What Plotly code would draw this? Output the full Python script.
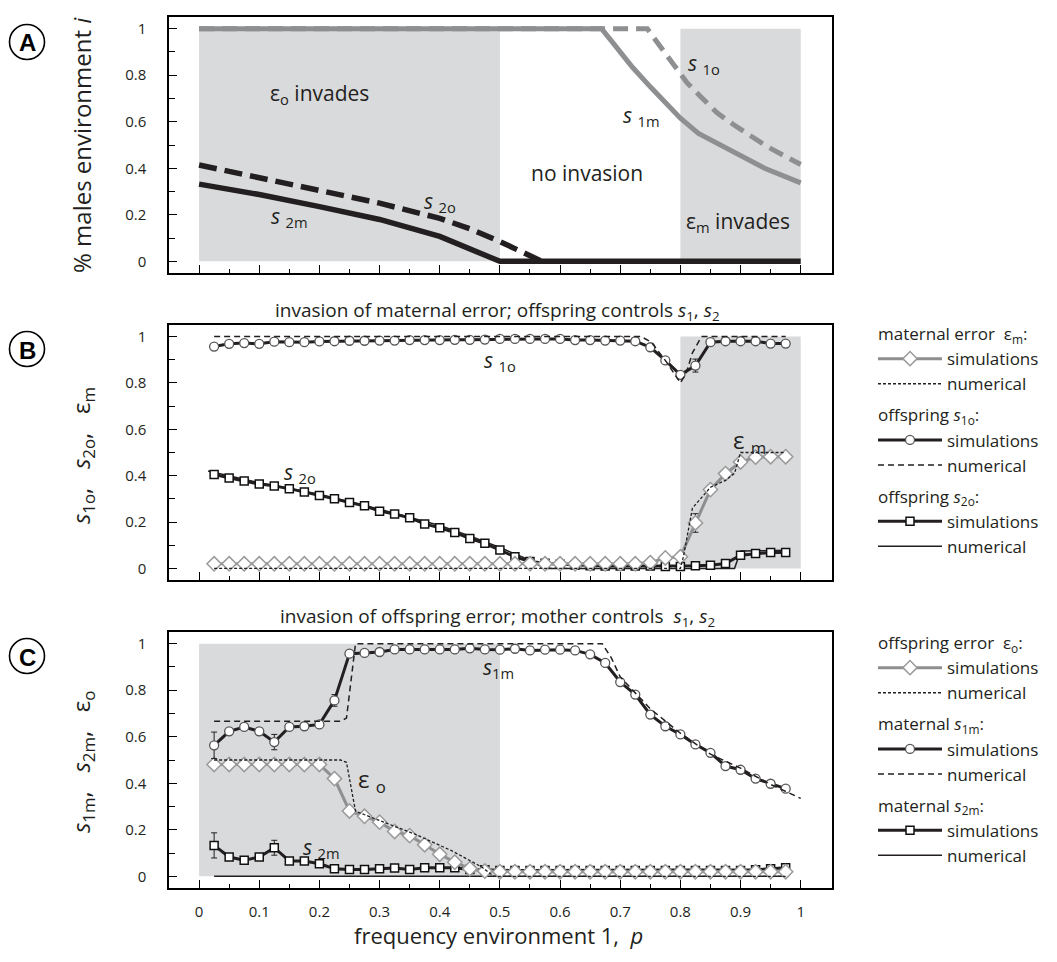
import plotly.graph_objects as go

# ---------------- data ----------------
# Panel A (analytical curves)
a_s1m_p = [0, 0.669, 0.683, 0.70, 0.72, 0.75, 0.78, 0.80, 0.83, 0.89, 0.94, 1.0]
a_s1m_y = [1, 1, 0.955, 0.90, 0.835, 0.75, 0.67, 0.615, 0.55, 0.465, 0.40, 0.337]
a_s1o_p = [0, 0.745, 0.766, 0.789, 0.811, 0.833, 0.861, 0.888, 0.916, 0.943, 1.0]
a_s1o_y = [1, 1, 0.925, 0.84, 0.768, 0.71, 0.638, 0.588, 0.538, 0.495, 0.416]
a_s2o_p = [0, 0.1, 0.2, 0.3, 0.4, 0.45, 0.5, 0.535, 0.57]
a_s2o_y = [0.414, 0.36, 0.305, 0.25, 0.185, 0.14, 0.085, 0.045, 0.0]
a_s2m_p = [0, 0.1, 0.2, 0.3, 0.4, 0.45, 0.5, 1.0]
a_s2m_y = [0.332, 0.287, 0.235, 0.18, 0.107, 0.055, 0.0, 0.0]

# simulation grid
p_sim = [0.025, 0.05, 0.075, 0.1, 0.125, 0.15, 0.175, 0.2, 0.225, 0.25,
         0.275, 0.3, 0.325, 0.35, 0.375, 0.4, 0.425, 0.45, 0.475, 0.5,
         0.525, 0.55, 0.575, 0.6, 0.625, 0.65, 0.675, 0.7, 0.725, 0.75,
         0.775, 0.8, 0.825, 0.85, 0.875, 0.9, 0.925, 0.95, 0.975]

# Panel B
b_s1o_sim = [0.957, 0.969, 0.972, 0.969, 0.978, 0.976, 0.976, 0.979, 0.98, 0.982,
             0.982, 0.983, 0.983, 0.985, 0.985, 0.985, 0.986, 0.986, 0.987, 0.99,
             0.99, 0.99, 0.99, 0.99, 0.985, 0.985, 0.983, 0.983, 0.98, 0.954,
             0.897, 0.835, 0.875, 0.976, 0.98, 0.98, 0.98, 0.97, 0.97]
b_s1o_err = [0] * 31 + [0.012, 0.028] + [0] * 6
b_em_sim = [0.02] * 28 + [0.02, 0.025, 0.045, 0.05, 0.196, 0.34, 0.409, 0.459, 0.48, 0.482, 0.482]
b_em_err = [0] * 32 + [0.04, 0.015] + [0] * 5
b_s2o_sim = [0.405, 0.39, 0.377, 0.364, 0.356, 0.344, 0.33, 0.315, 0.30, 0.284,
             0.27, 0.247, 0.235, 0.218, 0.192, 0.175, 0.155, 0.129, 0.108, 0.079,
             0.05, 0.03, 0.022, 0.018, 0.015, 0.012, 0.01, 0.01, 0.01, 0.01,
             0.008, 0.008, 0.011, 0.014, 0.021, 0.057, 0.064, 0.069, 0.069]

b_em_num_p = [0.025, 0.8, 0.805, 0.82, 0.85, 0.875, 0.89, 0.9, 0.975]
b_em_num_y = [0.0, 0.0, 0.05, 0.26, 0.35, 0.38, 0.41, 0.5, 0.5]
b_s1o_num_p = [0.025, 0.735, 0.752, 0.777, 0.80, 0.81, 0.82, 0.835, 0.975]
b_s1o_num_y = [1, 1, 0.975, 0.89, 0.80, 0.845, 0.93, 1, 1]
b_s2o_num_p = [0.015, 0.1, 0.2, 0.3, 0.4, 0.45, 0.5, 0.55, 0.575, 0.89, 0.9, 0.975]
b_s2o_num_y = [0.42, 0.37, 0.32, 0.255, 0.185, 0.14, 0.09, 0.035, 0.0, 0.0, 0.075, 0.078]

# Panel C
c_s1m_sim = [0.563, 0.623, 0.642, 0.623, 0.577, 0.642, 0.645, 0.653, 0.756, 0.957,
             0.96, 0.964, 0.975, 0.975, 0.975, 0.975, 0.975, 0.98, 0.975, 0.974,
             0.978, 0.971, 0.974, 0.974, 0.971, 0.954, 0.917, 0.835, 0.781, 0.695,
             0.645, 0.61, 0.567, 0.531, 0.474, 0.458, 0.42, 0.398, 0.377]
c_s1m_err = [0.057, 0, 0.01, 0.015, 0.033, 0, 0, 0, 0.025] + [0] * 30
c_eo_sim = [0.481] * 8 + [0.42, 0.281, 0.258, 0.233, 0.193, 0.175, 0.136, 0.095,
                          0.061, 0.033, 0.023, 0.02] + [0.02] * 19
c_s2m_sim = [0.133, 0.083, 0.069, 0.083, 0.123, 0.066, 0.066, 0.054, 0.033, 0.029,
             0.029, 0.033, 0.036, 0.029, 0.037, 0.037, 0.037, 0.03, 0.028, 0.025] \
            + [0.025] * 16 + [0.028, 0.033, 0.037]
c_s2m_err = [0.054, 0, 0, 0.015, 0.032] + [0] * 34

c_eo_num_p = [0.025, 0.235, 0.245, 0.26, 0.31, 0.36, 0.42, 0.47, 0.49, 0.975]
c_eo_num_y = [0.5, 0.5, 0.49, 0.28, 0.23, 0.18, 0.11, 0.04, 0.0, 0.0]
c_s1m_num_p = [0.025, 0.235, 0.245, 0.26, 0.67, 0.685, 0.7, 0.75, 0.8, 0.85, 0.9, 0.95, 1.0]
c_s1m_num_y = [0.667, 0.667, 0.68, 1, 1, 0.94, 0.857, 0.72, 0.615, 0.525, 0.465, 0.395, 0.335]
c_s2m_num_p = [0.025, 0.975]
c_s2m_num_y = [0.0, 0.0]

x_ticks = [0, 0.1, 0.2, 0.3, 0.4, 0.5, 0.6, 0.7, 0.8, 0.9, 1]
x_ticktext = ["0", "0.1", "0.2", "0.3", "0.4", "0.5", "0.6", "0.7", "0.8", "0.9", "1"]
x_minor = [0.05, 0.15, 0.25, 0.35, 0.45, 0.55, 0.65, 0.75, 0.85, 0.95]
y_ticks = [0, 0.2, 0.4, 0.6, 0.8, 1]
y_ticktext = ["0", "0.2", "0.4", "0.6", "0.8", "1"]
y_minor = [0.1, 0.3, 0.5, 0.7, 0.9]

# ---------------- styling ----------------
OFF = 8                       # default body margin of the html page
W, H = 1057 - 2 * OFF, 962 - 2 * OFF
FONT = "Open Sans"
TXT = "#231f20"
GRAY = "#8e8f91"
SHADE = "#d9dadc"
SP = "\u00a0"


def px(x):
    return (x - OFF) / W


def py(y):
    return 1 - (y - OFF) / H


XDOM = [px(169), px(832)]
YDOM = {1: [py(273), py(17)], 2: [py(580), py(325)], 3: [py(888), py(632)]}

fig = go.Figure()

# ---------------- panel A ----------------
fig.add_trace(go.Scatter(x=a_s1o_p, y=a_s1o_y, mode="lines", xaxis="x", yaxis="y",
                         line=dict(color=GRAY, width=5, dash="15px,8px"), showlegend=False))
fig.add_trace(go.Scatter(x=a_s1m_p, y=a_s1m_y, mode="lines", xaxis="x", yaxis="y",
                         line=dict(color=GRAY, width=5), showlegend=False))
fig.add_trace(go.Scatter(x=a_s2o_p, y=a_s2o_y, mode="lines", xaxis="x", yaxis="y",
                         line=dict(color=TXT, width=5.5, dash="18px,8px"), showlegend=False))
fig.add_trace(go.Scatter(x=a_s2m_p, y=a_s2m_y, mode="lines", xaxis="x", yaxis="y",
                         line=dict(color=TXT, width=5.5), showlegend=False))

# ---------------- panel B ----------------
circ = dict(symbol="circle", size=9, color="white", line=dict(color="#555555", width=1.3))
sq = dict(symbol="square", size=8, color="white", line=dict(color="#111111", width=1.5))
dia = dict(symbol="diamond", size=11, color="white", line=dict(color="#9a9a9a", width=1.5))


def err(arr):
    return dict(type="data", array=arr, visible=True, color=TXT, thickness=1, width=3)


T_EM = "maternal error" + SP + SP + "ε<sub>m</sub>:"
T_S1O = "offspring <i>s</i><sub>1o</sub>:"
T_S2O = "offspring <i>s</i><sub>2o</sub>:"
T_EO = "offspring error" + SP + SP + "ε<sub>o</sub>:"
T_S1M = "maternal <i>s</i><sub>1m</sub>:"
T_S2M = "maternal <i>s</i><sub>2m</sub>:"

fig.add_trace(go.Scatter(x=b_s2o_num_p, y=b_s2o_num_y, mode="lines", xaxis="x2", yaxis="y2",
                         line=dict(color=TXT, width=1.5), name="numerical",
                         legend="legend", legendgroup="s2o", legendrank=6,
                         legendgrouptitle=dict(text=T_S2O)))
fig.add_trace(go.Scatter(x=p_sim, y=b_s2o_sim, mode="lines+markers", xaxis="x2", yaxis="y2",
                         line=dict(color=TXT, width=3), marker=sq, name="simulations",
                         legend="legend", legendgroup="s2o", legendrank=5,
                         legendgrouptitle=dict(text=T_S2O)))
fig.add_trace(go.Scatter(x=p_sim, y=b_s1o_sim, mode="lines+markers", xaxis="x2", yaxis="y2",
                         line=dict(color=TXT, width=3), marker=circ, name="simulations",
                         error_y=err(b_s1o_err),
                         legend="legend", legendgroup="s1o", legendrank=3,
                         legendgrouptitle=dict(text=T_S1O)))
fig.add_trace(go.Scatter(x=b_s1o_num_p, y=b_s1o_num_y, mode="lines", xaxis="x2", yaxis="y2",
                         line=dict(color=TXT, width=1.5, dash="6px,4px"), name="numerical",
                         legend="legend", legendgroup="s1o", legendrank=4,
                         legendgrouptitle=dict(text=T_S1O)))
fig.add_trace(go.Scatter(x=p_sim, y=b_em_sim, mode="lines+markers", xaxis="x2", yaxis="y2",
                         line=dict(color=GRAY, width=3), marker=dia, name="simulations",
                         error_y=err(b_em_err),
                         legend="legend", legendgroup="em", legendrank=1,
                         legendgrouptitle=dict(text=T_EM)))
fig.add_trace(go.Scatter(x=b_em_num_p, y=b_em_num_y, mode="lines", xaxis="x2", yaxis="y2",
                         line=dict(color=TXT, width=1.3, dash="3px,2px"), name="numerical",
                         legend="legend", legendgroup="em", legendrank=2,
                         legendgrouptitle=dict(text=T_EM)))

# ---------------- panel C ----------------
fig.add_trace(go.Scatter(x=c_s2m_num_p, y=c_s2m_num_y, mode="lines", xaxis="x3", yaxis="y3",
                         line=dict(color=TXT, width=1.5), name="numerical",
                         legend="legend2", legendgroup="s2m", legendrank=6,
                         legendgrouptitle=dict(text=T_S2M)))
fig.add_trace(go.Scatter(x=p_sim, y=c_s2m_sim, mode="lines+markers", xaxis="x3", yaxis="y3",
                         line=dict(color=TXT, width=3), marker=sq, name="simulations",
                         error_y=err(c_s2m_err),
                         legend="legend2", legendgroup="s2m", legendrank=5,
                         legendgrouptitle=dict(text=T_S2M)))
fig.add_trace(go.Scatter(x=p_sim, y=c_eo_sim, mode="lines+markers", xaxis="x3", yaxis="y3",
                         line=dict(color=GRAY, width=3), marker=dia, name="simulations",
                         legend="legend2", legendgroup="eo", legendrank=1,
                         legendgrouptitle=dict(text=T_EO)))
fig.add_trace(go.Scatter(x=c_eo_num_p, y=c_eo_num_y, mode="lines", xaxis="x3", yaxis="y3",
                         line=dict(color=TXT, width=1.3, dash="3px,2px"), name="numerical",
                         legend="legend2", legendgroup="eo", legendrank=2,
                         legendgrouptitle=dict(text=T_EO)))
fig.add_trace(go.Scatter(x=p_sim, y=c_s1m_sim, mode="lines+markers", xaxis="x3", yaxis="y3",
                         line=dict(color=TXT, width=3), marker=circ, name="simulations",
                         error_y=err(c_s1m_err),
                         legend="legend2", legendgroup="s1m", legendrank=3,
                         legendgrouptitle=dict(text=T_S1M)))
fig.add_trace(go.Scatter(x=c_s1m_num_p, y=c_s1m_num_y, mode="lines", xaxis="x3", yaxis="y3",
                         line=dict(color=TXT, width=1.5, dash="6px,4px"), name="numerical",
                         legend="legend2", legendgroup="s1m", legendrank=4,
                         legendgrouptitle=dict(text=T_S1M)))

# ---------------- shaded regions ----------------
shapes = []
for xr, yr, x0, x1 in [("x", "y", 0, 0.5), ("x", "y", 0.8, 1.0),
                       ("x2", "y2", 0.8, 1.0), ("x3", "y3", 0, 0.5)]:
    shapes.append(dict(type="rect", xref=xr, yref=yr, x0=x0, x1=x1, y0=0, y1=1,
                       fillcolor=SHADE, line=dict(width=0), layer="below"))

# circled panel letters
R = 17.5
CX = 27
LETTERS = [("A", 42), ("B", 349), ("C", 656)]
annotations = []
for letter, cy in LETTERS:
    shapes.append(dict(type="circle", xref="paper", yref="paper",
                       x0=px(CX - R), x1=px(CX + R), y0=py(cy + R), y1=py(cy - R),
                       line=dict(color="black", width=1.6)))
    annotations.append(dict(text="<b>%s</b>" % letter, x=px(CX), y=py(cy + 1),
                            xref="paper", yref="paper", xanchor="center", yanchor="middle",
                            showarrow=False,
                            font=dict(family="Liberation Sans", size=24, color="black")))


def ann(text, x, y, xref, yref, size=17, **kw):
    d = dict(text=text, x=x, y=y, xref=xref, yref=yref, showarrow=False,
             xanchor="center", yanchor="middle",
             font=dict(family=FONT, size=size, color=TXT))
    d.update(kw)
    annotations.append(d)


# panel A labels
ann("ε<sub>o</sub> invades", 0.2, 0.72, "x", "y", size=21)
ann("no invasion", 0.645, 0.38, "x", "y", size=21)
ann("ε<sub>m</sub> invades", 0.895, 0.17, "x", "y", size=21)
ann("<i>s</i> <sub>2m</sub>", 0.15, 0.19, "x", "y", size=21)
ann("<i>s</i> <sub>2o</sub>", 0.40, 0.255, "x", "y", size=21)
ann("<i>s</i> <sub>1o</sub>", 0.84, 0.85, "x", "y", size=21)
ann("<i>s</i> <sub>1m</sub>", 0.735, 0.625, "x", "y", size=21)

# panel B labels
ann("<i>s</i> <sub>1o</sub>", 0.5, 0.895, "x2", "y2", size=21)
ann("<i>s</i> <sub>2o</sub>", 0.168, 0.41, "x2", "y2", size=21)
ann("ε <sub>m</sub>", 0.915, 0.55, "x2", "y2", size=24)

# panel C labels
ann("<i>s</i><sub>1m</sub>", 0.498, 0.895, "x3", "y3", size=21)
ann("ε <sub>o</sub>", 0.288, 0.415, "x3", "y3", size=24)
ann("<i>s</i> <sub>2m</sub>", 0.204, 0.12, "x3", "y3", size=21)

# subtitles
ann("invasion of maternal error; offspring controls <i>s</i><sub>1</sub>, <i>s</i><sub>2</sub>",
    px(497), py(311), "paper", "paper", size=19)
ann("invasion of offspring error; mother controls" + SP + SP + "<i>s</i><sub>1</sub>, <i>s</i><sub>2</sub>",
    px(497), py(617), "paper", "paper", size=19)

# axis titles
G = SP * 3
ann("% males environment <i>i</i>", px(82), py(145), "paper", "paper", size=24, textangle=-90)
ann("<i>s</i><sub>1o</sub>," + G + "<i>s</i><sub>2o</sub>," + G + "ε<sub>m</sub>",
    px(82), py(456), "paper", "paper", size=24, textangle=-90)
ann("<i>s</i><sub>1m</sub>," + G + "<i>s</i><sub>2m</sub>," + G + "ε<sub>o</sub>",
    px(82), py(762), "paper", "paper", size=24, textangle=-90)
ann("frequency environment 1," + SP + SP + "<i>p</i>", px(498), py(935), "paper", "paper", size=22)


def xaxis(anchor, labels):
    return dict(domain=XDOM, anchor=anchor, range=[-0.05, 1.052], tickmode="array",
                tickvals=x_ticks, ticktext=x_ticktext, showticklabels=labels,
                ticks="inside", ticklen=8, tickwidth=1, tickcolor="black",
                minor=dict(tickmode="array", tickvals=x_minor, ticks="inside", ticklen=4,
                           tickwidth=1, tickcolor="black"),
                showline=True, mirror=True, linecolor="black", linewidth=1.5,
                showgrid=False, zeroline=False, ticklabelstandoff=9,
                tickfont=dict(family=FONT, size=15, color=TXT))


def yaxis(anchor, dom):
    return dict(domain=dom, anchor=anchor, range=[-0.05, 1.05], tickmode="array",
                tickvals=y_ticks, ticktext=y_ticktext,
                ticks="inside", ticklen=8, tickwidth=1, tickcolor="black",
                minor=dict(tickmode="array", tickvals=y_minor, ticks="inside", ticklen=6,
                           tickwidth=1, tickcolor="black"),
                showline=True, mirror=True, linecolor="black", linewidth=1.5,
                showgrid=False, zeroline=False, ticklabelstandoff=18,
                tickfont=dict(family=FONT, size=15, color=TXT))


leg_common = dict(xanchor="left", yanchor="top", bgcolor="rgba(0,0,0,0)", borderwidth=0,
                  font=dict(family=FONT, size=17, color=TXT),
                  grouptitlefont=dict(family=FONT, size=17, color=TXT),
                  traceorder="grouped", tracegroupgap=6, itemwidth=64,
                  itemclick=False, itemdoubleclick=False)

fig.update_layout(
    width=W, height=H, margin=dict(l=0, r=0, t=0, b=0, autoexpand=False),
    paper_bgcolor="white", plot_bgcolor="rgba(0,0,0,0)",
    font=dict(family=FONT, color=TXT),
    xaxis=xaxis("y", False), yaxis=yaxis("x", YDOM[1]),
    xaxis2=xaxis("y2", False), yaxis2=yaxis("x2", YDOM[2]),
    xaxis3=xaxis("y3", True), yaxis3=yaxis("x3", YDOM[3]),
    legend=dict(x=px(873), y=py(316), **leg_common),
    legend2=dict(x=px(873), y=py(625), **leg_common),
    shapes=shapes, annotations=annotations,
)

fig.write_html("out.html")
